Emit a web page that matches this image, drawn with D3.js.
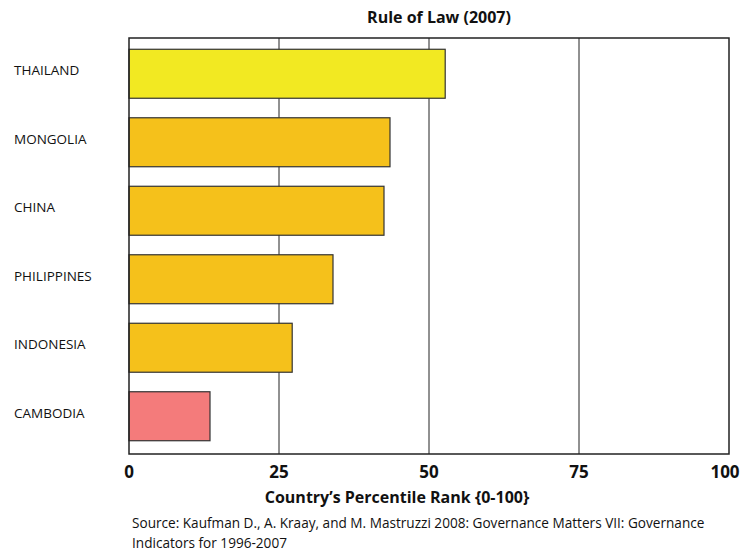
<!DOCTYPE html>
<meta charset="utf-8">
<head>
	<style type="text/css">
		body { margin: 0; background: #fff; }
		text { font-family: "Open Sans", "Noto Sans", sans-serif; fill: #111; }
		.title, .axis-label, .tick-label { font-weight: bold; }
	</style>
	<title>Rule of Law (2007)</title>
</head>
<script src="https://cdn.jsdelivr.net/npm/d3@7/dist/d3.min.js"></script>
<svg width="749" height="551" id="svg1"></svg>
<script>
	const countries = ["THAILAND", "MONGOLIA", "CHINA", "PHILIPPINES", "INDONESIA", "CAMBODIA"];
	const ranks = [52.7, 43.5, 42.5, 34.0, 27.2, 13.5];
	const barColors = ["#f2e922", "#f5c11b", "#f5c11b", "#f5c11b", "#f5c11b", "#f47b7b"];
	const ticks = [0, 25, 50, 75, 100];

	const svg1 = d3.select('#svg1');
	const margin = { top: 38, right: 20, bottom: 97, left: 129 };
	const width = +svg1.attr('width');
	const height = +svg1.attr('height');
	const innerWidth = 600;
	const innerHeight = height - margin.top - margin.bottom;

	const data = countries.map((c, i) => ({ country: c, rank: ranks[i], color: barColors[i] }));

	const xScale = d3.scaleLinear()
		.domain([0, 100])
		.range([0, innerWidth]);

	const yScale = d3.scaleBand()
		.domain(countries)
		.range([1, innerHeight - 3])
		.paddingInner(0.285)
		.paddingOuter(0.15);

	const g1 = svg1.append('g')
		.attr('transform', `translate(${margin.left},${margin.top})`);

	// grid lines
	g1.selectAll('.grid')
		.data(ticks.slice(1, -1))
		.enter().append('line')
		.attr('class', 'grid')
		.attr('x1', d => xScale(d)).attr('x2', d => xScale(d))
		.attr('y1', 0).attr('y2', innerHeight)
		.attr('stroke', '#222')
		.attr('stroke-width', 1);

	// bars
	g1.selectAll('.bar')
		.data(data)
		.enter().append('rect')
		.attr('class', 'bar')
		.attr('x', xScale(0))
		.attr('y', d => yScale(d.country))
		.attr('width', d => xScale(d.rank))
		.attr('height', yScale.bandwidth())
		.attr('fill', d => d.color)
		.attr('stroke', '#333')
		.attr('stroke-width', 1.2);

	// frame
	g1.append('rect')
		.attr('x', 0).attr('y', 0)
		.attr('width', innerWidth).attr('height', innerHeight)
		.attr('fill', 'none')
		.attr('stroke', '#222')
		.attr('stroke-width', 1.5);

	// category labels
	svg1.selectAll('.cat')
		.data(data)
		.enter().append('text')
		.attr('class', 'cat')
		.attr('x', 14)
		.attr('y', d => margin.top + yScale(d.country) + yScale.bandwidth() / 2 - 3)
		.attr('dy', '0.35em')
		.attr('font-size', '13.5px')
		.text(d => d.country);

	// x tick labels
	g1.selectAll('.tick-label')
		.data(ticks)
		.enter().append('text')
		.attr('class', 'tick-label')
		.attr('x', d => d === 100 ? xScale(d) - 4 : xScale(d))
		.attr('y', innerHeight + 24)
		.attr('text-anchor', 'middle')
		.attr('font-size', '17px')
		.text(d => d);

	g1.append('text')
		.attr('class', 'axis-label')
		.attr('x', 268)
		.attr('y', innerHeight + 49)
		.attr('text-anchor', 'middle')
		.attr('font-size', '16px')
		.text('Country\u2019s Percentile Rank {0-100}');

	svg1.append('text')
		.attr('class', 'title')
		.attr('x', 439)
		.attr('y', 23)
		.attr('text-anchor', 'middle')
		.attr('font-size', '16px')
		.text('Rule of Law (2007)');

	const source = svg1.append('text')
		.attr('x', 132)
		.attr('y', 528)
		.attr('font-size', '13.6px');
	source.append('tspan').attr('x', 132).text('Source: Kaufman D., A. Kraay, and M. Mastruzzi 2008: Governance Matters VII: Governance');
	source.append('tspan').attr('x', 132).attr('dy', 20).text('Indicators for 1996-2007');
</script>
